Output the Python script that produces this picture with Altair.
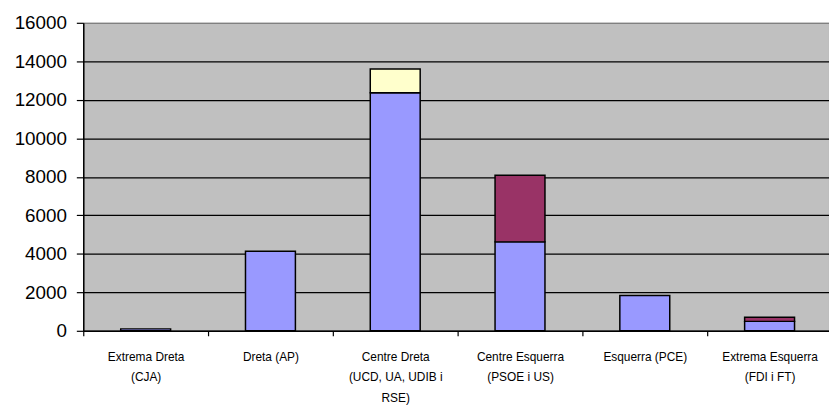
import altair as alt
import pandas as pd

categories = [
    "Extrema Dreta\n(CJA)",
    "Dreta (AP)",
    "Centre Dreta\n(UCD, UA, UDIB i\nRSE)",
    "Centre Esquerra\n(PSOE i US)",
    "Esquerra (PCE)",
    "Extrema Esquerra\n(FDI i FT)",
]
series_names = ["Sèrie 1", "Sèrie 2", "Sèrie 3"]
s1 = [100, 4130, 12370, 4620, 1830, 490]
s2 = [0, 0, 0, 3460, 0, 220]
s3 = [0, 0, 1230, 0, 0, 0]
colors = ["#9999FF", "#993366", "#FFFFCC"]
y_ticks = [0, 2000, 4000, 6000, 8000, 10000, 12000, 14000, 16000]

rows = []
for k, (name, vals) in enumerate(zip(series_names, [s1, s2, s3])):
    for c, v in zip(categories, vals):
        if v > 0:
            rows.append({"cat": c, "serie": name, "k": k, "v": v})
df = pd.DataFrame(rows)

FONT = "Liberation Sans"

chart = alt.Chart(df).mark_bar(stroke="black", strokeWidth=1.5).encode(
    x=alt.X(
        "cat:N",
        sort=categories,
        title=None,
        scale=alt.Scale(range=[0, 756], paddingInner=0.6, paddingOuter=0.3),
        axis=alt.Axis(
            labelAngle=0,
            labelExpr="split(datum.label, '\\n')",
            labelFont=FONT,
            labelFontSize=12,
            labelLineHeight=20.5,
            labelColor="black",
            labelBaseline="top",
            labelPadding=16,
            labelLimit=300,
            ticks=True,
            bandPosition=0,
            tickOffset=-38,
            labelOffset=38,
            tickSize=5,
            tickColor="black",
            tickWidth=1.2,
            domainColor="black",
            domainWidth=1.5,
            grid=False,
        ),
    ),
    y=alt.Y(
        "v:Q",
        stack="zero",
        title=None,
        scale=alt.Scale(domain=[0, 16000], nice=False),
        axis=alt.Axis(
            values=y_ticks,
            format="d",
            labelFont=FONT,
            labelFontSize=19,
            labelColor="black",
            labelPadding=10,
            ticks=True,
            tickSize=7,
            tickColor="black",
            tickWidth=1.2,
            domainColor="black",
            domainWidth=1.5,
            grid=True,
            gridColor={"condition": {"test": "datum.value >= 16000", "value": "#808080"}, "value": "black"},
            gridOpacity=1,
            gridWidth=1.3,
        ),
    ),
    color=alt.Color("serie:N", scale=alt.Scale(domain=series_names, range=colors), legend=None),
    order=alt.Order("k:Q", sort="ascending"),
).properties(
    width=753,
    height=311,
    background="white",
    autosize=alt.AutoSizeParams(type="none"),
    padding={"left": 76, "top": 13, "right": 0, "bottom": 76},
).configure_view(
    fill="#C0C0C0",
    stroke="#808080",
    strokeWidth=1,
)

chart.save("out.html", embed_options={"renderer": "svg", "actions": False})
